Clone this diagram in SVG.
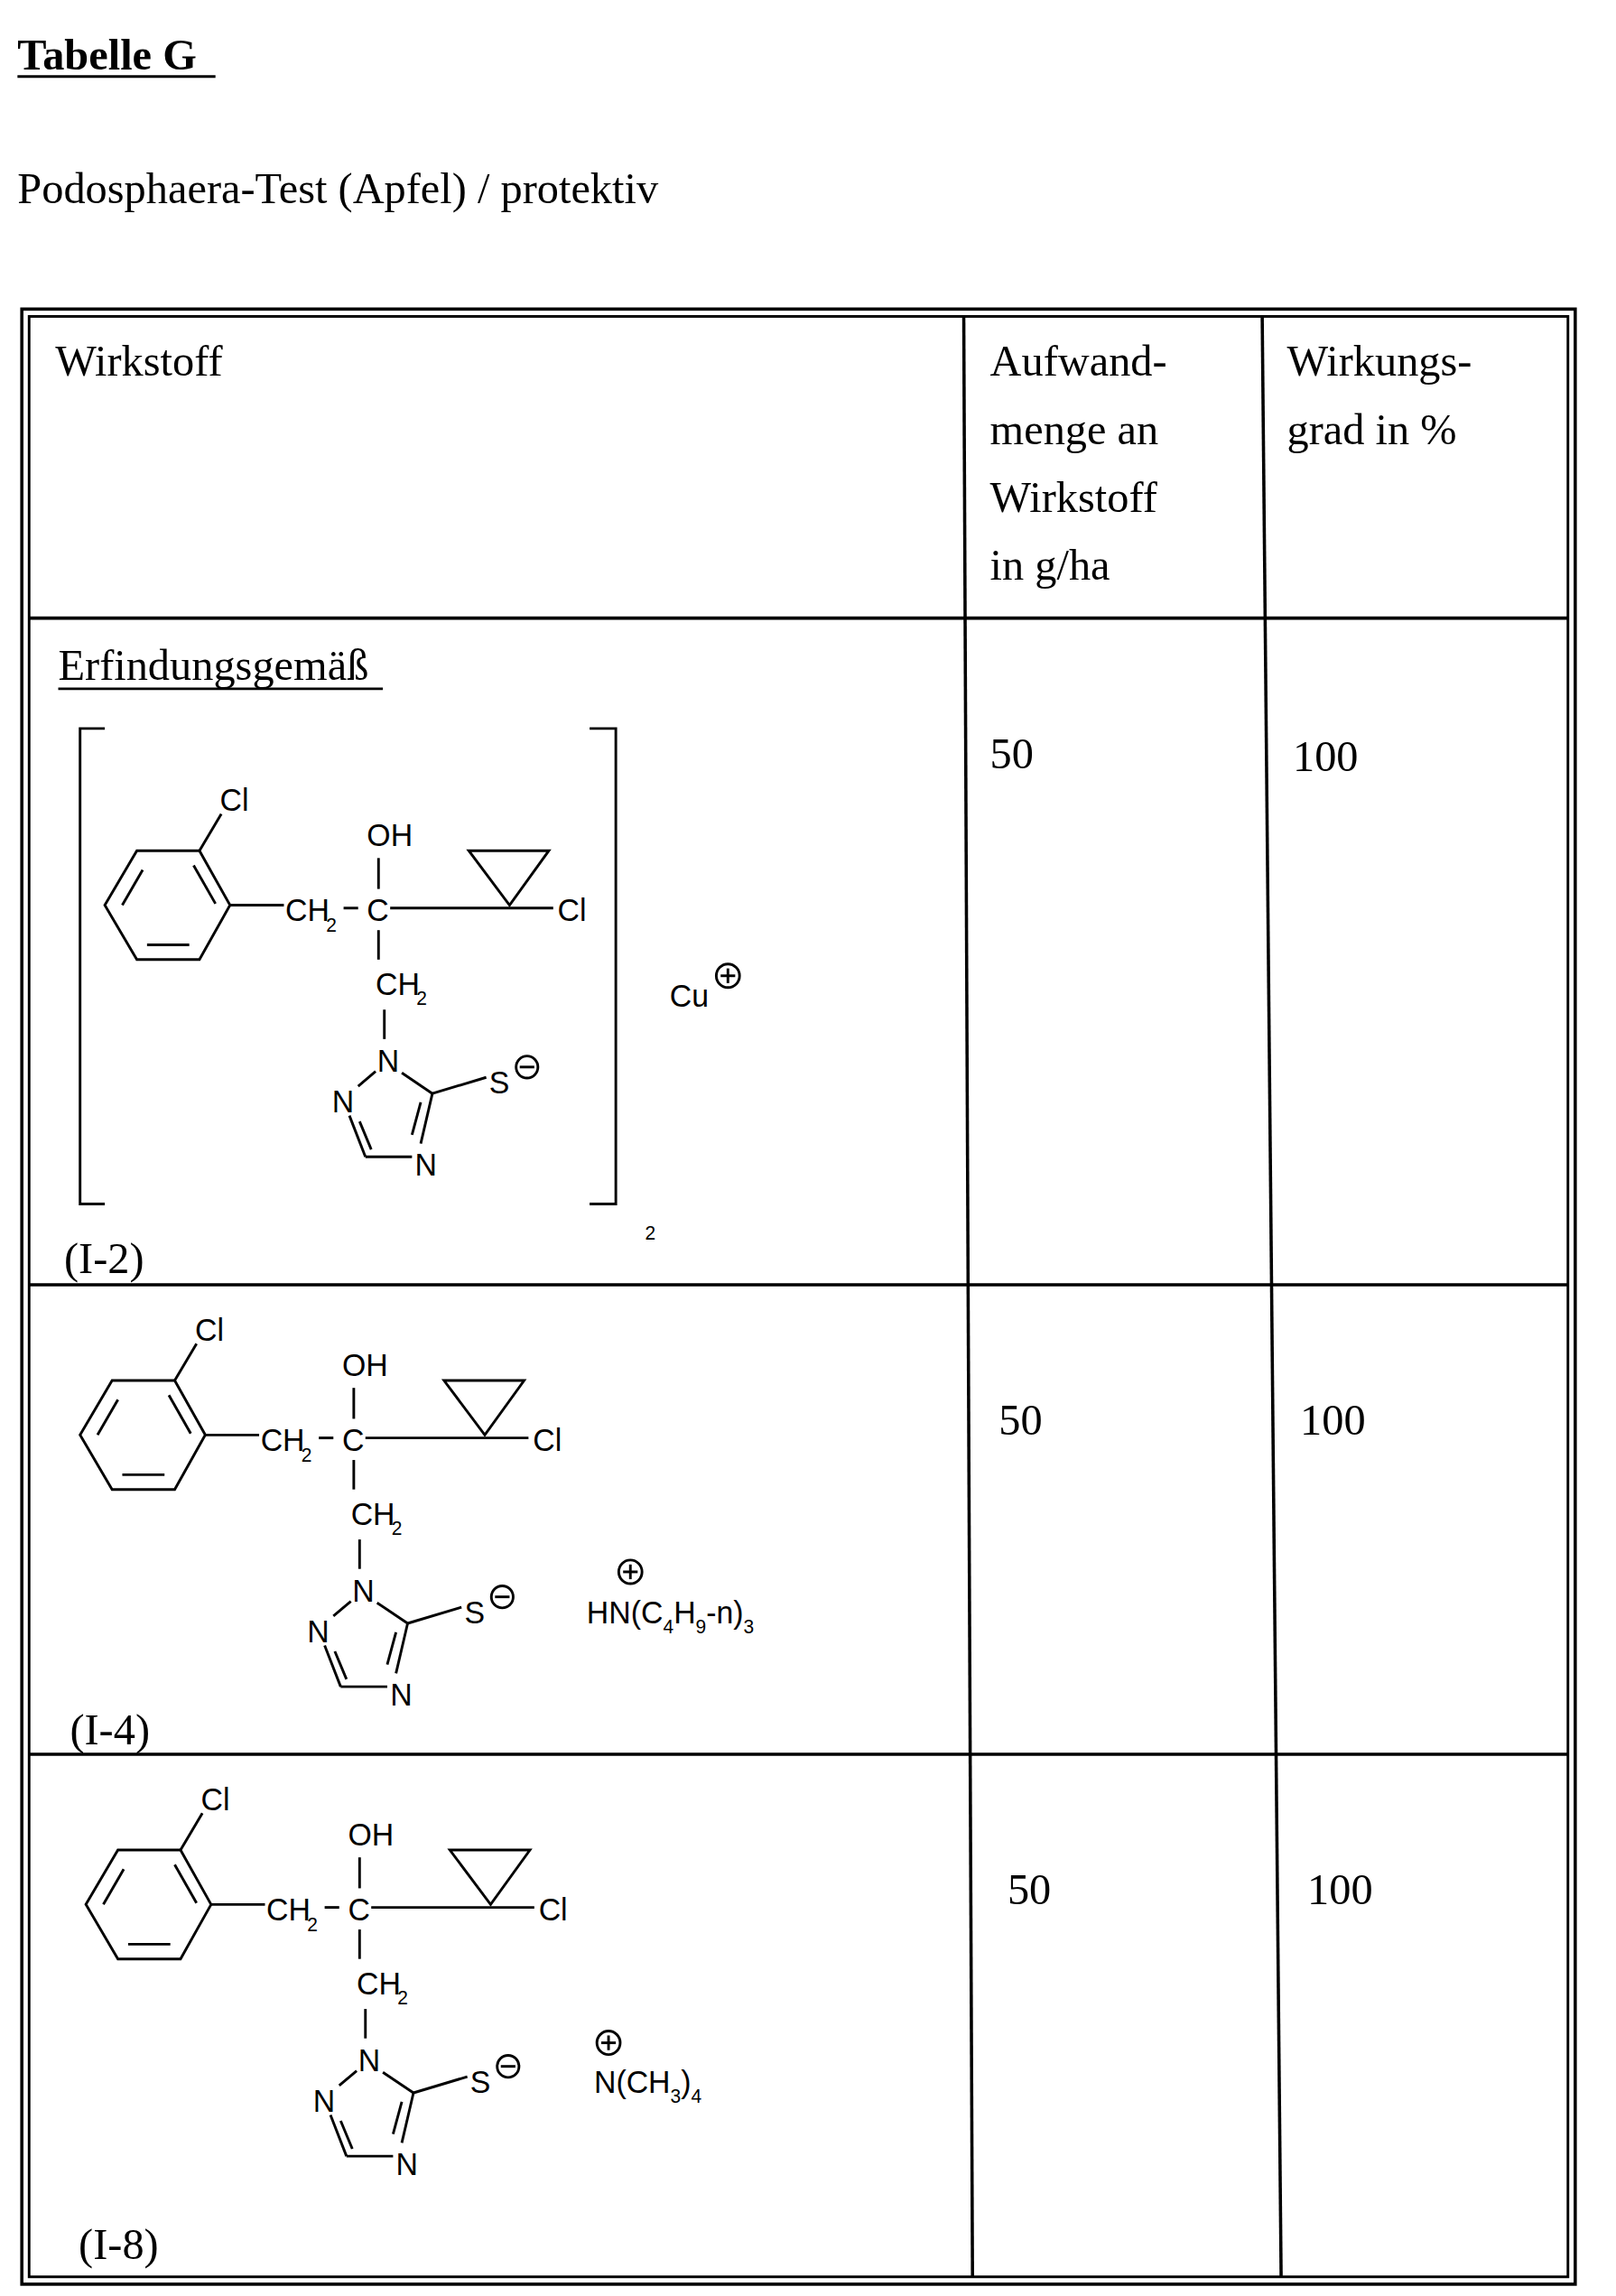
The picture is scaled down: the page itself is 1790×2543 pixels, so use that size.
<svg xmlns="http://www.w3.org/2000/svg" xmlns:xlink="http://www.w3.org/1999/xlink" width="1790" height="2543" viewBox="0 0 1790 2543">
<style>
.t{font-family:"Liberation Serif","Times New Roman",serif;font-size:30px;fill:#000}
.m{font-family:"Liberation Sans",Arial,sans-serif;font-size:21px;fill:#000}
.s{font-family:"Liberation Sans",Arial,sans-serif;font-size:13px;fill:#000}
.l{stroke:#000;stroke-width:1.8;fill:none}
.b{stroke:#000;stroke-width:2.2;fill:none}
</style>
<defs>
<g id="mol">
<polygon class="l" points="158,615 137,578 94,578 72,615 94,652 137,652"/>
<line class="l" x1="133" y1="588" x2="148" y2="614"/>
<line class="l" x1="84" y1="615" x2="98" y2="591"/>
<line class="l" x1="101" y1="642" x2="130" y2="642"/>
<line class="l" x1="137" y1="578" x2="152" y2="553"/>
<text class="m" x="151" y="551">Cl</text>
<line class="l" x1="158" y1="615" x2="195" y2="615"/>
<text class="m" x="196" y="626">CH</text><text class="s" x="224" y="633">2</text>
<line class="l" x1="236" y1="617" x2="246" y2="617"/>
<text class="m" x="252" y="626">C</text>
<text class="m" x="252" y="575">OH</text>
<line class="l" x1="260" y1="583" x2="260" y2="604"/>
<line class="l" x1="268" y1="617" x2="380" y2="617"/>
<polygon class="l" points="322,578 377,578 350,615"/>
<text class="m" x="383" y="626">Cl</text>
<line class="l" x1="260" y1="632" x2="260" y2="652"/>
<text class="m" x="258" y="676">CH</text><text class="s" x="286" y="683">2</text>
<line class="l" x1="264" y1="686" x2="264" y2="706"/>
<text class="m" x="259" y="728">N</text>
<text class="m" x="228" y="756">N</text>
<text class="m" x="285" y="799">N</text>
<line class="l" x1="258" y1="728" x2="246" y2="738"/>
<line class="l" x1="240" y1="758" x2="251" y2="786"/>
<line class="l" x1="247" y1="762" x2="255" y2="781"/>
<line class="l" x1="251" y1="786" x2="283" y2="786"/>
<line class="l" x1="289" y1="777" x2="297" y2="743"/>
<line class="l" x1="283" y1="771" x2="289" y2="749"/>
<line class="l" x1="297" y1="743" x2="276" y2="729"/>
<line class="l" x1="297" y1="743" x2="334" y2="732"/>
<text class="m" x="336" y="743">S</text>
<circle class="l" cx="362" cy="725" r="7.5"/>
<line class="l" x1="357" y1="725" x2="367" y2="725"/>
</g>
</defs>
<rect width="1790" height="2543" fill="#fff"/>
<g transform="scale(1.6126,1.6301)">
<g id="title">
<text class="t" x="12" y="47" font-weight="bold" font-size="33">Tabelle G</text>
<line class="l" x1="12" y1="52" x2="148" y2="52"/>
<text class="t" x="12" y="138" font-size="31">Podosphaera-Test (Apfel) / protektiv</text>
</g>
<g id="table">
<rect class="b" x="15" y="210" width="1067" height="1342"/>
<rect class="l" x="20" y="215" width="1057" height="1332"/>
<line class="b" x1="20" y1="420" x2="1077" y2="420"/>
<line class="b" x1="20" y1="873" x2="1077" y2="873"/>
<line class="b" x1="20" y1="1192" x2="1077" y2="1192"/>
<line class="b" x1="662" y1="215" x2="668" y2="1547"/>
<line class="b" x1="867" y1="215" x2="880" y2="1547"/>
</g>
<g id="header">
<text class="t" x="38" y="255">Wirkstoff</text>
<text class="t" x="680" y="255">Aufwand-</text>
<text class="t" x="680" y="302">menge an</text>
<text class="t" x="680" y="348">Wirkstoff</text>
<text class="t" x="680" y="394">in g/ha</text>
<text class="t" x="884" y="255">Wirkungs-</text>
<text class="t" x="884" y="302">grad in %</text>
</g>
<g id="row1">
<text class="t" x="40" y="462">Erfindungsgemäß</text>
<line class="l" x1="40" y1="468" x2="263" y2="468"/>
<polyline class="l" points="72,495 55,495 55,818 72,818"/>
<polyline class="l" points="405,495 423,495 423,818 405,818"/>
<text class="s" x="443" y="842">2</text>
<use xlink:href="#mol"/>
<text class="m" x="460" y="684">Cu</text>
<circle class="l" cx="500" cy="663" r="8"/>
<line class="l" x1="495" y1="663" x2="505" y2="663"/><line class="l" x1="500" y1="658" x2="500" y2="668"/>
<text class="t" x="44" y="865">(I-2)</text>
<text class="t" x="680" y="522">50</text>
<text class="t" x="888" y="524">100</text>
</g>
<g id="row2">
<use xlink:href="#mol" transform="translate(-17,360)"/>
<circle class="l" cx="433" cy="1068" r="8"/>
<line class="l" x1="428" y1="1068" x2="438" y2="1068"/><line class="l" x1="433" y1="1063" x2="433" y2="1073"/>
<text class="m" x="403" y="1103">HN(C<tspan class="s" dy="7">4</tspan><tspan dy="-7">H</tspan><tspan class="s" dy="7">9</tspan><tspan dy="-7">-n)</tspan><tspan class="s" dy="7">3</tspan></text>
<text class="t" x="48" y="1185">(I-4)</text>
<text class="t" x="686" y="975">50</text>
<text class="t" x="893" y="975">100</text>
</g>
<g id="row3">
<use xlink:href="#mol" transform="translate(-13,679)"/>
<circle class="l" cx="418" cy="1388" r="8"/>
<line class="l" x1="413" y1="1388" x2="423" y2="1388"/><line class="l" x1="418" y1="1383" x2="418" y2="1393"/>
<text class="m" x="408" y="1422">N(CH<tspan class="s" dy="7">3</tspan><tspan dy="-7">)</tspan><tspan class="s" dy="7">4</tspan></text>
<text class="t" x="54" y="1535">(I-8)</text>
<text class="t" x="692" y="1294">50</text>
<text class="t" x="898" y="1294">100</text>
</g>
</g>
</svg>
